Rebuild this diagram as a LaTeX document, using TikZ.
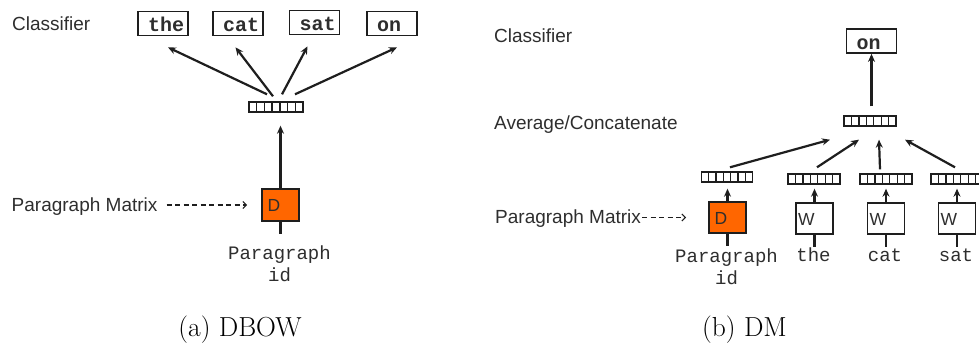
\documentclass[tikz,border=0pt]{standalone}
\usepackage{fontspec}
\newfontfamily\labelfont{Liberation Sans}
\newfontfamily\codefont{Liberation Mono}
\usetikzlibrary{arrows.meta,calc}
\definecolor{ink}{HTML}{1E1E1E}
\definecolor{txt}{HTML}{2E2E2E}
\definecolor{dorange}{HTML}{FF6600}

\tikzset{
  lbl/.style={font=\labelfont\fontsize{19}{22}\selectfont, text=txt, inner sep=0pt, anchor=base west},
  code/.style={font=\codefont\fontsize{19}{22}\selectfont, text=txt, inner sep=0pt},
  subcap/.style={font=\fontsize{27.5}{32}\selectfont, inner sep=0pt, anchor=base},
  clsbox/.style={draw=ink, line width=1.7pt, minimum width=50pt, minimum height=24pt,
    inner sep=0pt, text height=17pt, text depth=0pt,
    font=\codefont\bfseries\fontsize{20}{22}\selectfont, text=txt},
  matbox/.style={draw=ink, line width=1.7pt, minimum width=37pt, minimum height=32pt,
    inner sep=0pt, text height=14pt, text depth=0pt,
    font=\labelfont\fontsize{17.5}{20}\selectfont, text=txt},
  dbox/.style={matbox, fill=dorange},
  wbox/.style={matbox, fill=white, minimum height=31pt},
  vec/.style={draw=ink, line width=1.4pt, minimum width=53pt, minimum height=10pt, inner sep=0pt,
    path picture={\foreach \i in {1,...,6}{
      \draw[ink, line width=1.3pt]
        ($(path picture bounding box.south west)!\i/7!(path picture bounding box.south east)$) --
        ($(path picture bounding box.north west)!\i/7!(path picture bounding box.north east)$);}}},
  arr/.style={draw=ink, line width=2.2pt, -{Stealth[length=8pt,width=7pt]}},
  stem/.style={draw=ink, line width=2.2pt},
  dasharr/.style={draw=ink, line width=1.1pt, dash pattern=on 5pt off 3.5pt,
    -{Straight Barb[length=3.5pt,width=7pt]}},
}

\begin{document}
\begin{tikzpicture}[x=1pt,y=-1pt]
\useasboundingbox (0,0) rectangle (979,352);

% ---------------- DBOW ----------------
\node[lbl] (cls1) at (12,31) {Classifier};
\node[lbl] (pm1) at (11.5,212) {Paragraph Matrix};

\node[clsbox] (o1) at (163,23.5) {\makebox[30pt][l]{the}};
\node[clsbox] (o2) at (238,23.5) {\makebox[30pt][l]{cat}};
\node[clsbox] (o3) at (314.5,22.5) {\makebox[30pt][l]{sat}};
\node[clsbox] (o4) at (392,23.5) {\makebox[30pt][l]{on}};

\node[vec, minimum width=54pt] (lv) at (276,107) {};
\node[dbox] (D1) at (280.5,205) {\makebox[26pt][l]{D}};
\node[code, anchor=north, align=center] (pid1) at (279.5,246) {Paragraph\\id};

\draw[arr] ([xshift=-9pt,yshift=7pt]lv.north) -- ([xshift=5pt,yshift=-11pt]o1.south);
\draw[arr] ([xshift=-3pt,yshift=5pt]lv.north) -- ([xshift=-2.5pt,yshift=-11pt]o2.south);
\draw[arr] ([xshift=6pt,yshift=7pt]lv.north) -- ([xshift=-7pt,yshift=-11pt]o3.south);
\draw[arr] ([xshift=19pt,yshift=7pt]lv.north) -- ([xshift=5pt,yshift=-11pt]o4.south);

\draw[arr] (D1.north) -- ($(D1.north |- lv.south)+(0,13)$);
\draw[stem] (D1.south) -- ++(0,12);
\draw[dasharr] ($(pm1.east |- D1.west)+(9,0)$) -- ($(D1.west)+(-14,0)$);

\node[subcap] (capa) at (240,337) {(a) DBOW};

% ---------------- DM ----------------
\node[lbl] (cls2) at (494,42.5) {Classifier};
\node[lbl] (avg) at (494,130) {Average/Concatenate};
\node[lbl] (pm2) at (495,224) {Paragraph Matrix};

\node[clsbox] (on) at (871.5,41) {\makebox[30pt][l]{on}};
\node[vec, minimum width=52pt] (av) at (870,121) {};

\node[vec, minimum width=51pt] (pv) at (727,177) {};
\node[vec, minimum width=52pt] (wv1) at (814,179) {};
\node[vec, minimum width=52pt] (wv2) at (886,179) {};
\node[vec, minimum width=52pt] (wv3) at (957,179) {};

\node[dbox, minimum height=31pt] (D2) at (727.5,217.5) {\makebox[26pt][l]{D}};
\node[wbox] (W1) at (814.5,218.5) {\makebox[33pt][l]{W}};
\node[wbox] (W2) at (886,218.5) {\makebox[33pt][l]{W}};
\node[wbox] (W3) at (957,218.5) {\makebox[33pt][l]{W}};

\node[code, anchor=north, align=center] (pid2) at (726.5,249) {Paragraph\\id};
\node[code, anchor=base] (t1) at (813.5,262) {the};
\node[code, anchor=base] (t2) at (885,262) {cat};
\node[code, anchor=base] (t3) at (956,262) {sat};

\draw[arr] ($(av.north -| on.south)+(0,-9)$) -- (on.south);

\draw[arr] ([xshift=3pt,yshift=4pt]pv.north) -- ([xshift=-40pt,yshift=-13pt]av.south);
\draw[arr] ([xshift=3pt,yshift=6pt]wv1.north) -- ([xshift=-11pt,yshift=-13pt]av.south);
\draw[arr] ([xshift=-6pt,yshift=4pt]wv2.north) -- ([xshift=9pt,yshift=-13pt]av.south);
\draw[arr] ([xshift=-2pt,yshift=6pt]wv3.north) -- ([xshift=35pt,yshift=-13pt]av.south);

\draw[arr, shorten >=6pt] (D2.north) -- (D2.north |- pv.south);
\draw[arr, shorten >=4pt] (W1.north) -- (W1.north |- wv1.south);
\draw[arr, shorten >=4pt] (W2.north) -- (W2.north |- wv2.south);
\draw[arr, shorten >=4pt] (W3.north) -- (W3.north |- wv3.south);

\draw[stem] (D2.south) -- ++(0,12);
\draw[stem] (W1.south) -- ++(0,12);
\draw[stem] (W2.south) -- ++(0,12);
\draw[stem] (W3.south) -- ++(0,12);

\draw[dasharr] ($(pm2.east |- D2.west)+(1,0)$) -- ($(D2.west)+(-22,0)$);

\node[subcap] (capb) at (744.5,337) {(b) DM};
\end{tikzpicture}
\end{document}
